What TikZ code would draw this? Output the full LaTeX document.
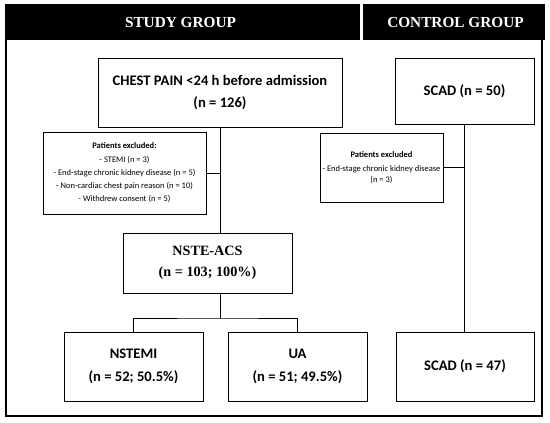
\documentclass[tikz,border=0pt]{standalone}
\usepackage{fontspec}
\setmainfont{Carlito}
\newfontfamily\hdrfont{Liberation Serif}
\begin{document}
\begin{tikzpicture}[x=1pt,y=-1pt,
  box/.style={draw=black, line width=0.9pt, inner sep=0pt, align=center,
    font=\fontsize{14.6}{22.5}\selectfont\bfseries},
  serifbox/.style={box, font=\hdrfont\fontsize{14.2}{21}\selectfont\bfseries},
  smallbox/.style={draw=black, line width=0.9pt, inner sep=0pt, align=center,
    font=\fontsize{8.5}{13.3}\selectfont},
  hdr/.style={text=white, inner sep=0pt, font=\hdrfont\fontsize{15.3}{18}\selectfont\bfseries},
  conn/.style={draw=black, line width=0.9pt}]
\useasboundingbox (0,0) rectangle (550,423);
% header band
\fill[black] (5,4) rectangle (545,40);
\draw[white, line width=2.5pt] (361.7,3) -- (361.7,40);
\node[hdr] (study) at (180.5,23) {STUDY GROUP};
\node[hdr] (control) at (455.5,23) {CONTROL GROUP};
% body frame
\draw[line width=1.4pt] (6,40) -- (6,416) -- (542,416) -- (542,40);
% boxes
\node[box, minimum width=244, minimum height=69] (chest) at (220,92.5)
  {CHEST PAIN <24 h before admission\\(n = 126)};
\node[smallbox, minimum width=163, minimum height=82] (excl1) at (124.5,173)
  {\textbf{Patients excluded:}\\- STEMI (n = 3)\\- End-stage chronic kidney disease (n = 5)\\- Non-cardiac chest pain reason (n = 10)\\- Withdrew consent (n = 5)};
\node[serifbox, minimum width=169, minimum height=60] (nste) at (207.5,263)
  {NSTE-ACS\\(n = 103; 100\%)};
\node[box, minimum width=139, minimum height=69] (nstemi) at (133.5,366.5)
  {NSTEMI\\(n = 52; 50.5\%)};
\node[box, minimum width=139, minimum height=69] (ua) at (297.5,366.5)
  {UA\\(n = 51; 49.5\%)};
\node[box, minimum width=139, minimum height=66] (scadA) at (464.5,91)
  {SCAD (n = 50)};
\node[smallbox, minimum width=123, minimum height=69, font=\fontsize{8.5}{11}\selectfont] (excl2) at (381.5,167.5)
  {\makebox[0pt]{\textbf{Patients excluded}}\\[3pt]\makebox[0pt]{- End-stage chronic kidney disease}\\\makebox[0pt]{(n = 3)}};
\node[box, minimum width=138, minimum height=69] (scadB) at (465,366.5)
  {SCAD (n = 47)};
% connectors
\coordinate (nsteTop) at (220,233);
\coordinate (nsteBot) at (220,293);
\coordinate (split) at (220,318);
\draw[conn] (chest.south) -- (nsteTop);
\draw[conn] (excl1.east) -- (excl1.east -| chest.south);
\draw[conn] (nsteBot) -- (split);
\draw[conn] (nstemi.north) |- (split) -| (ua.north);
\draw[conn] (scadA.south) -- (scadA.south |- scadB.north);
\draw[conn] (excl2.east) -- (excl2.east -| scadA.south);
\end{tikzpicture}
\end{document}
